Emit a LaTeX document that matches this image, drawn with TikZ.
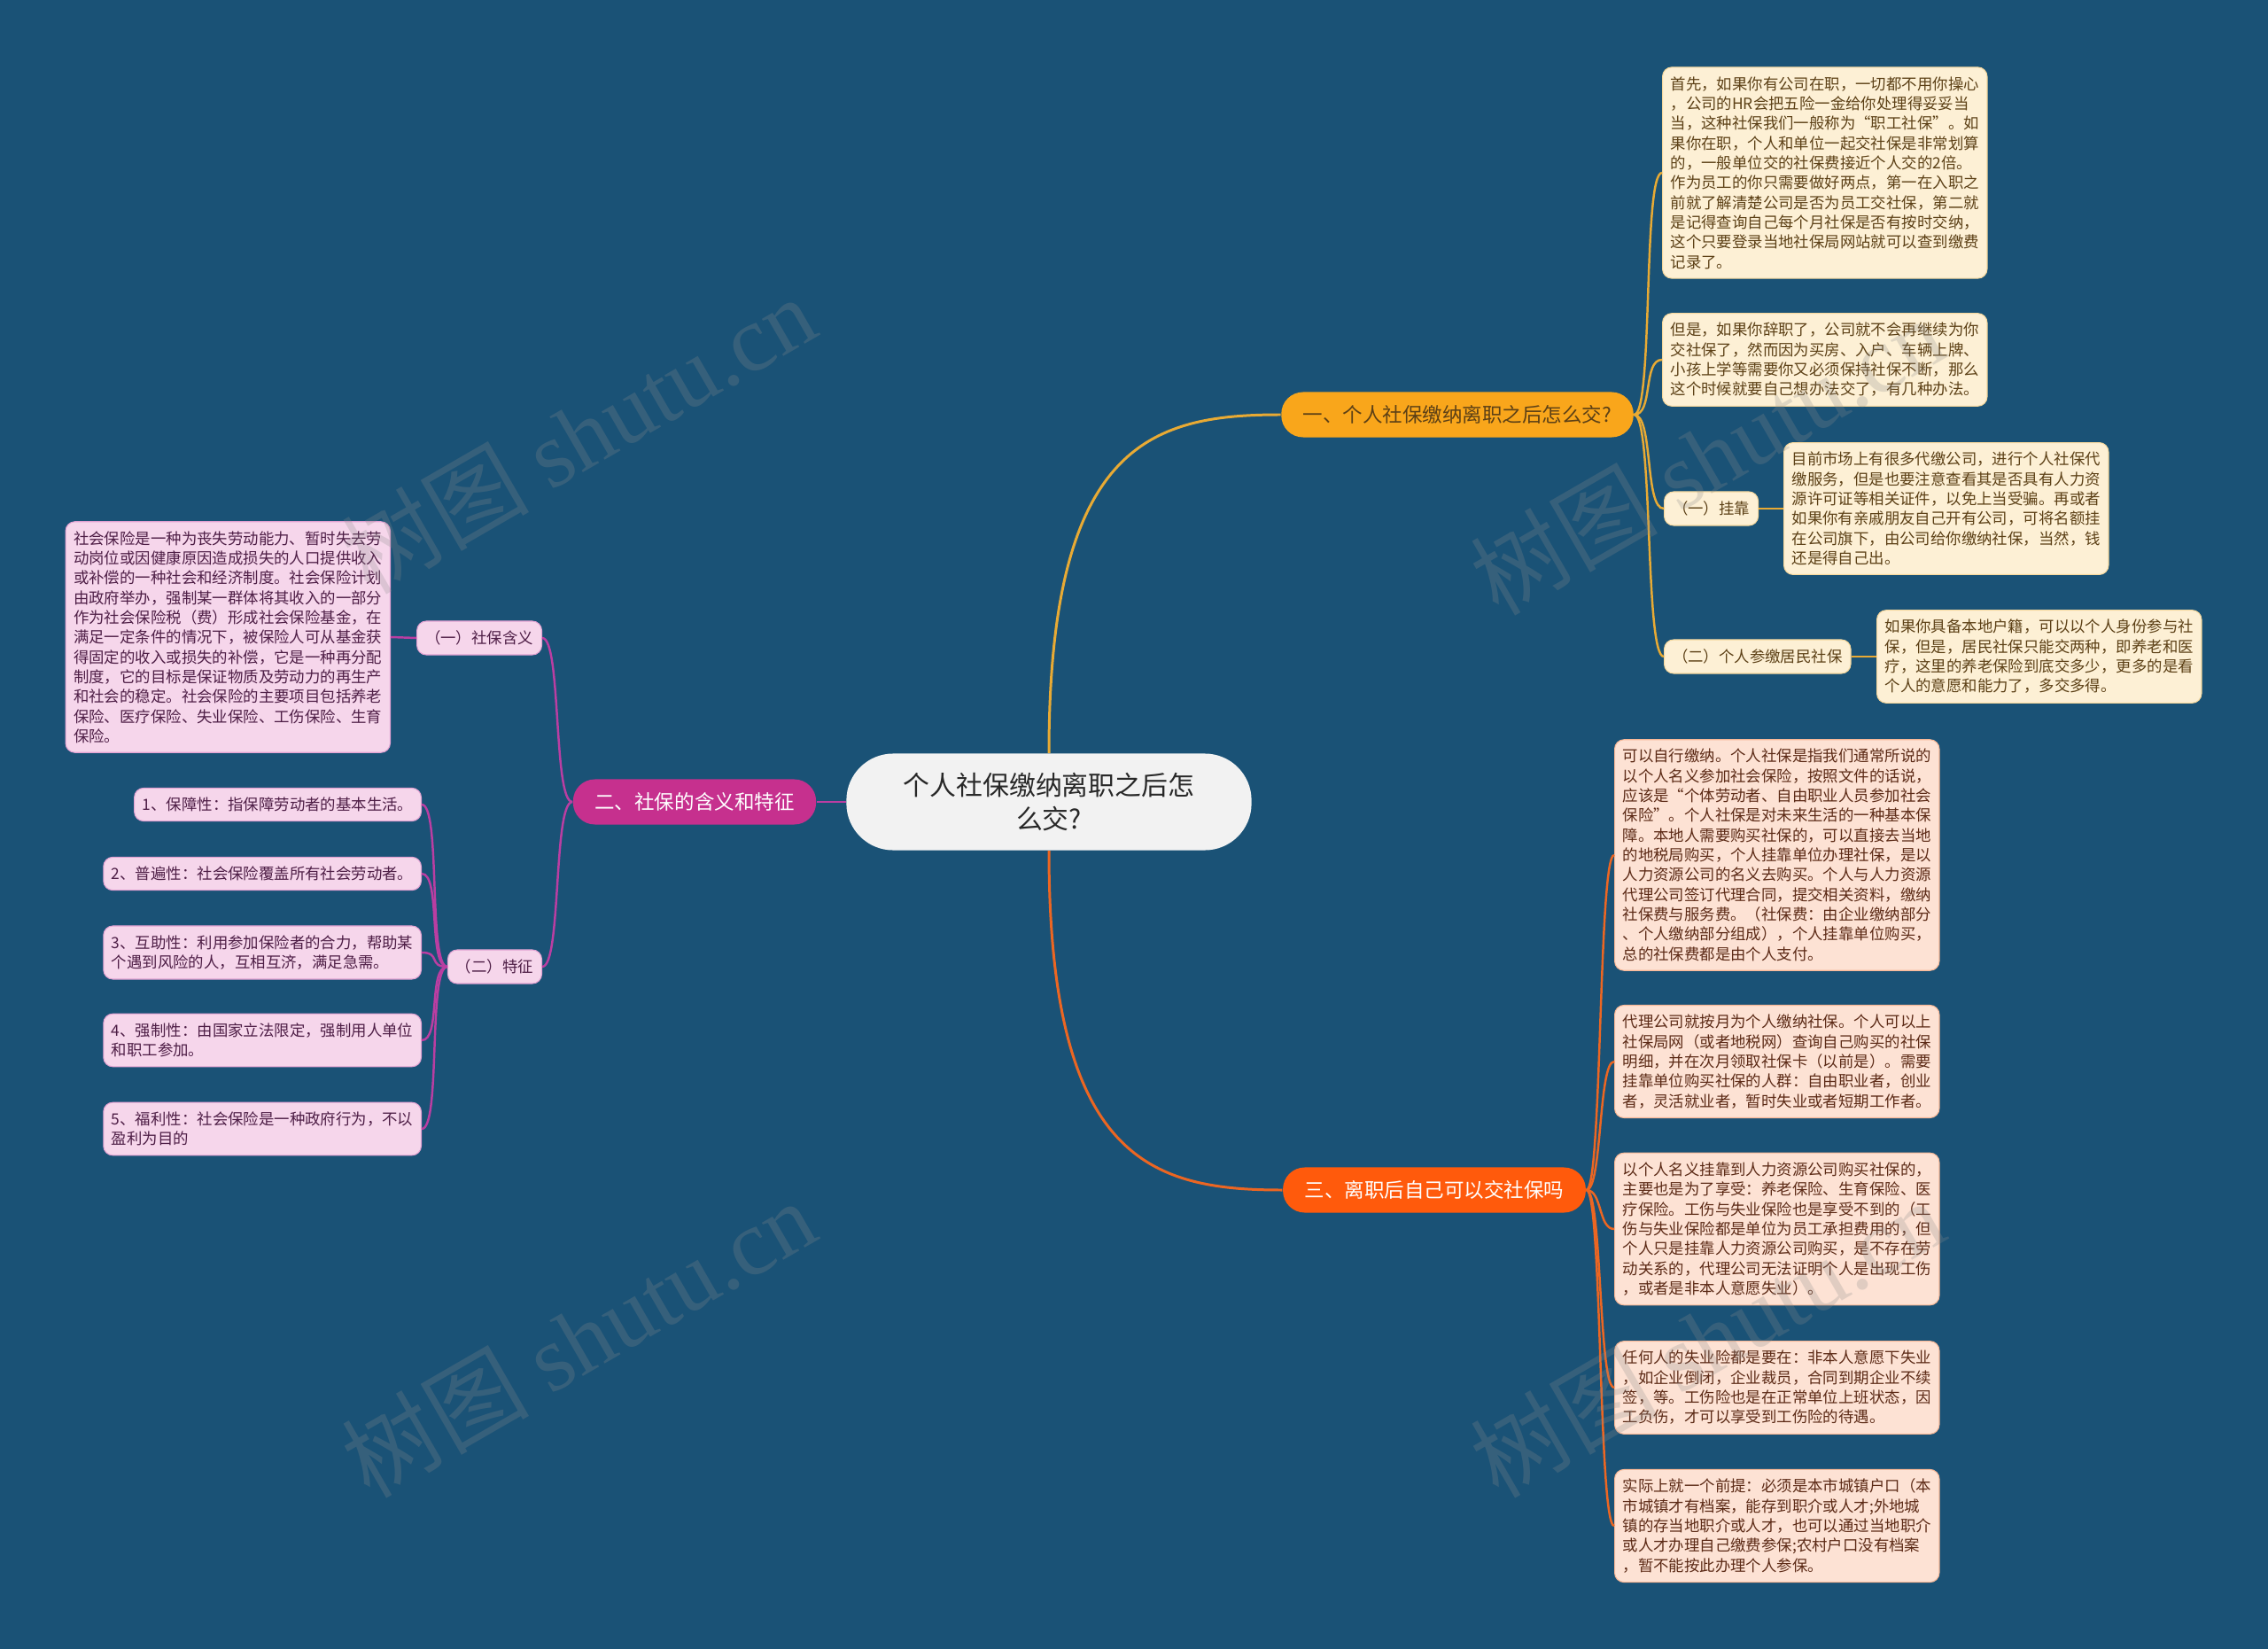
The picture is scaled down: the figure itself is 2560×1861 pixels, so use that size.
\documentclass[tikz,border=0pt]{standalone}
\usepackage{fontspec}
\setmainfont{Noto Sans CJK SC}
\newfontfamily\wmlatin{Liberation Serif}
\usetikzlibrary{positioning}
\definecolor{bgblue}{RGB}{26,82,118}
\definecolor{rootgray}{RGB}{242,242,242}
\definecolor{roottext}{RGB}{40,40,40}
\definecolor{goldtopic}{RGB}{249,166,27}
\definecolor{goldline}{RGB}{232,170,52}
\definecolor{goldleaf}{RGB}{253,240,213}
\definecolor{goldtext}{RGB}{92,64,22}
\definecolor{pinktopic}{RGB}{198,48,142}
\definecolor{pinkline}{RGB}{186,62,162}
\definecolor{pinkleaf}{RGB}{246,214,235}
\definecolor{pinktext}{RGB}{78,30,70}
\definecolor{redtopic}{RGB}{255,90,12}
\definecolor{redline}{RGB}{236,102,34}
\definecolor{redleaf}{RGB}{253,226,212}
\definecolor{redtext}{RGB}{92,42,22}
\definecolor{wmgray}{RGB}{140,140,140}
\tikzset{
  rootnode/.style={fill=rootgray, text=roottext, rounded corners=15pt, minimum width=4.57cm, minimum height=1.09cm, align=center, font=\fontsize{8.5pt}{11pt}\selectfont},
  topic/.style={rounded corners=7pt, minimum height=0.51cm, inner xsep=7pt, inner ysep=0pt, font=\fontsize{6.4pt}{7.6pt}\selectfont},
  tag/.style={rounded corners=3pt, minimum height=0.38cm, inner xsep=2.7pt, inner ysep=0pt, font=\fontsize{4.95pt}{6.35pt}\selectfont},
  note/.style={rounded corners=3pt, align=left, inner xsep=2.6pt, inner ysep=3pt, font=\fontsize{4.95pt}{6.35pt}\selectfont},
  goldtopicbox/.style={topic, fill=goldtopic, text=goldtext},
  pinktopicbox/.style={topic, fill=pinktopic, text=white},
  redtopicbox/.style={topic, fill=redtopic, text=white},
  goldleafbox/.style={note, fill=goldleaf, draw=goldline!35!goldleaf, line width=0.3pt, text=goldtext},
  pinkleafbox/.style={note, fill=pinkleaf, draw=pinkline!35!pinkleaf, line width=0.3pt, text=pinktext},
  redleafbox/.style={note, fill=redleaf, draw=redline!35!redleaf, line width=0.3pt, text=redtext},
  goldtagbox/.style={tag, fill=goldleaf, draw=goldline!35!goldleaf, line width=0.3pt, text=goldtext},
  pinktagbox/.style={tag, fill=pinkleaf, draw=pinkline!35!pinkleaf, line width=0.3pt, text=pinktext},
  trunk/.style={line width=0.85pt},
  twig/.style={line width=0.7pt},
  watermark/.style={text=wmgray, opacity=0.25, rotate=30, font=\fontsize{30pt}{30pt}\selectfont}
}

\begin{document}
\begin{tikzpicture}[x=0.01cm, y=-0.01cm]
  \fill[bgblue] (0,0) rectangle (2560,1861);
  \useasboundingbox (0,0) rectangle (2560,1861);

  % centre
  \node[rootnode] (root) at (1184,905) {个人社保缴纳离职之后怎\\么交?};

  % branch one
  \node[goldtopicbox] (t1) at (1645,468) {一、个人社保缴纳离职之后怎么交?};
  \node[goldleafbox, anchor=west] (a1) at (1876,195) {首先，如果你有公司在职，一切都不用你操心\\，公司的HR会把五险一金给你处理得妥妥当\\当，这种社保我们一般称为“职工社保”。如\\果你在职，个人和单位一起交社保是非常划算\\的，一般单位交的社保费接近个人交的2倍。\\作为员工的你只需要做好两点，第一在入职之\\前就了解清楚公司是否为员工交社保，第二就\\是记得查询自己每个月社保是否有按时交纳，\\这个只要登录当地社保局网站就可以查到缴费\\记录了。};
  \node[goldleafbox, anchor=west] (a2) at (1876,406) {但是，如果你辞职了，公司就不会再继续为你\\交社保了，然而因为买房、入户、车辆上牌、\\小孩上学等需要你又必须保持社保不断，那么\\这个时候就要自己想办法交了，有几种办法。};
  \node[goldtagbox, anchor=west] (a3) at (1878,574) {（一）挂靠};
  \node[goldleafbox, anchor=west] (a3n) at (2013,574) {目前市场上有很多代缴公司，进行个人社保代\\缴服务，但是也要注意查看其是否具有人力资\\源许可证等相关证件，以免上当受骗。再或者\\如果你有亲戚朋友自己开有公司，可将名额挂\\在公司旗下，由公司给你缴纳社保，当然，钱\\还是得自己出。};
  \node[goldtagbox, anchor=west] (a4) at (1878,741) {（二）个人参缴居民社保};
  \node[goldleafbox, anchor=west] (a4n) at (2118,741) {如果你具备本地户籍，可以以个人身份参与社\\保，但是，居民社保只能交两种，即养老和医\\疗，这里的养老保险到底交多少，更多的是看\\个人的意愿和能力了，多交多得。};

  \draw[trunk, goldline] (root.north) .. controls (1184,500) and (1300,468) .. (t1.west);
  \foreach \leaf in {a1,a2,a3,a4}
    \draw[twig, goldline] (t1.east) .. controls +(22,0) and +(-22,0) .. (\leaf.west);
  \draw[twig, goldline] (a3.east) -- (a3n.west);
  \draw[twig, goldline] (a4.east) -- (a4n.west);

  % branch two
  \node[pinktopicbox] (t2) at (784,905) {二、社保的含义和特征};
  \node[pinktagbox, anchor=east] (b1) at (612,720) {（一）社保含义};
  \node[pinkleafbox, anchor=east] (b1n) at (441,719) {社会保险是一种为丧失劳动能力、暂时失去劳\\动岗位或因健康原因造成损失的人口提供收入\\或补偿的一种社会和经济制度。社会保险计划\\由政府举办，强制某一群体将其收入的一部分\\作为社会保险税（费）形成社会保险基金，在\\满足一定条件的情况下，被保险人可从基金获\\得固定的收入或损失的补偿，它是一种再分配\\制度，它的目标是保证物质及劳动力的再生产\\和社会的稳定。社会保险的主要项目包括养老\\保险、医疗保险、失业保险、工伤保险、生育\\保险。};
  \node[pinktagbox, anchor=east] (b2) at (612,1091) {（二）特征};
  \node[pinkleafbox, anchor=east] (f1) at (476,908) {1、保障性：指保障劳动者的基本生活。};
  \node[pinkleafbox, anchor=east] (f2) at (476,986) {2、普遍性：社会保险覆盖所有社会劳动者。};
  \node[pinkleafbox, anchor=east] (f3) at (476,1075) {3、互助性：利用参加保险者的合力，帮助某\\个遇到风险的人，互相互济，满足急需。};
  \node[pinkleafbox, anchor=east] (f4) at (476,1174) {4、强制性：由国家立法限定，强制用人单位\\和职工参加。};
  \node[pinkleafbox, anchor=east] (f5) at (476,1274) {5、福利性：社会保险是一种政府行为，不以\\盈利为目的};

  \draw[trunk, pinkline] (root.west) -- (t2.east);
  \foreach \leaf in {b1,b2}
    \draw[twig, pinkline] (t2.west) .. controls +(-22,0) and +(22,0) .. (\leaf.east);
  \draw[twig, pinkline] (b1.west) -- (b1n.east);
  \foreach \leaf in {f1,f2,f3,f4,f5}
    \draw[twig, pinkline] (b2.west) .. controls +(-22,0) and +(22,0) .. (\leaf.east);

  % branch three
  \node[redtopicbox] (t3) at (1619,1343) {三、离职后自己可以交社保吗};
  \node[redleafbox, anchor=west] (c1) at (1822,965) {可以自行缴纳。个人社保是指我们通常所说的\\以个人名义参加社会保险，按照文件的话说，\\应该是“个体劳动者、自由职业人员参加社会\\保险”。个人社保是对未来生活的一种基本保\\障。本地人需要购买社保的，可以直接去当地\\的地税局购买，个人挂靠单位办理社保，是以\\人力资源公司的名义去购买。个人与人力资源\\代理公司签订代理合同，提交相关资料，缴纳\\社保费与服务费。（社保费：由企业缴纳部分\\、个人缴纳部分组成），个人挂靠单位购买，\\总的社保费都是由个人支付。};
  \node[redleafbox, anchor=west] (c2) at (1822,1198) {代理公司就按月为个人缴纳社保。个人可以上\\社保局网（或者地税网）查询自己购买的社保\\明细，并在次月领取社保卡（以前是）。需要\\挂靠单位购买社保的人群：自由职业者，创业\\者，灵活就业者，暂时失业或者短期工作者。};
  \node[redleafbox, anchor=west] (c3) at (1822,1387) {以个人名义挂靠到人力资源公司购买社保的，\\主要也是为了享受：养老保险、生育保险、医\\疗保险。工伤与失业保险也是享受不到的（工\\伤与失业保险都是单位为员工承担费用的，但\\个人只是挂靠人力资源公司购买，是不存在劳\\动关系的，代理公司无法证明个人是出现工伤\\，或者是非本人意愿失业）。};
  \node[redleafbox, anchor=west] (c4) at (1822,1566) {任何人的失业险都是要在：非本人意愿下失业\\，如企业倒闭，企业裁员，合同到期企业不续\\签，等。工伤险也是在正常单位上班状态，因\\工负伤，才可以享受到工伤险的待遇。};
  \node[redleafbox, anchor=west] (c5) at (1822,1722) {实际上就一个前提：必须是本市城镇户口（本\\市城镇才有档案，能存到职介或人才;外地城\\镇的存当地职介或人才，也可以通过当地职介\\或人才办理自己缴费参保;农村户口没有档案\\，暂不能按此办理个人参保。};

  \draw[trunk, redline] (root.south) .. controls (1184,1310) and (1300,1343) .. (t3.west);
  \foreach \leaf in {c1,c2,c3,c4,c5}
    \draw[twig, redline] (t3.east) .. controls +(18,0) and +(-18,0) .. (\leaf.west);

  % watermarks
  \foreach \wx/\wy [count=\wi] in {653/490, 653/1510, 1927/514, 1927/1510}
    \node[watermark] (wm\wi) at (\wx,\wy) {树图 {\wmlatin shutu.cn}};
\end{tikzpicture}
\end{document}
